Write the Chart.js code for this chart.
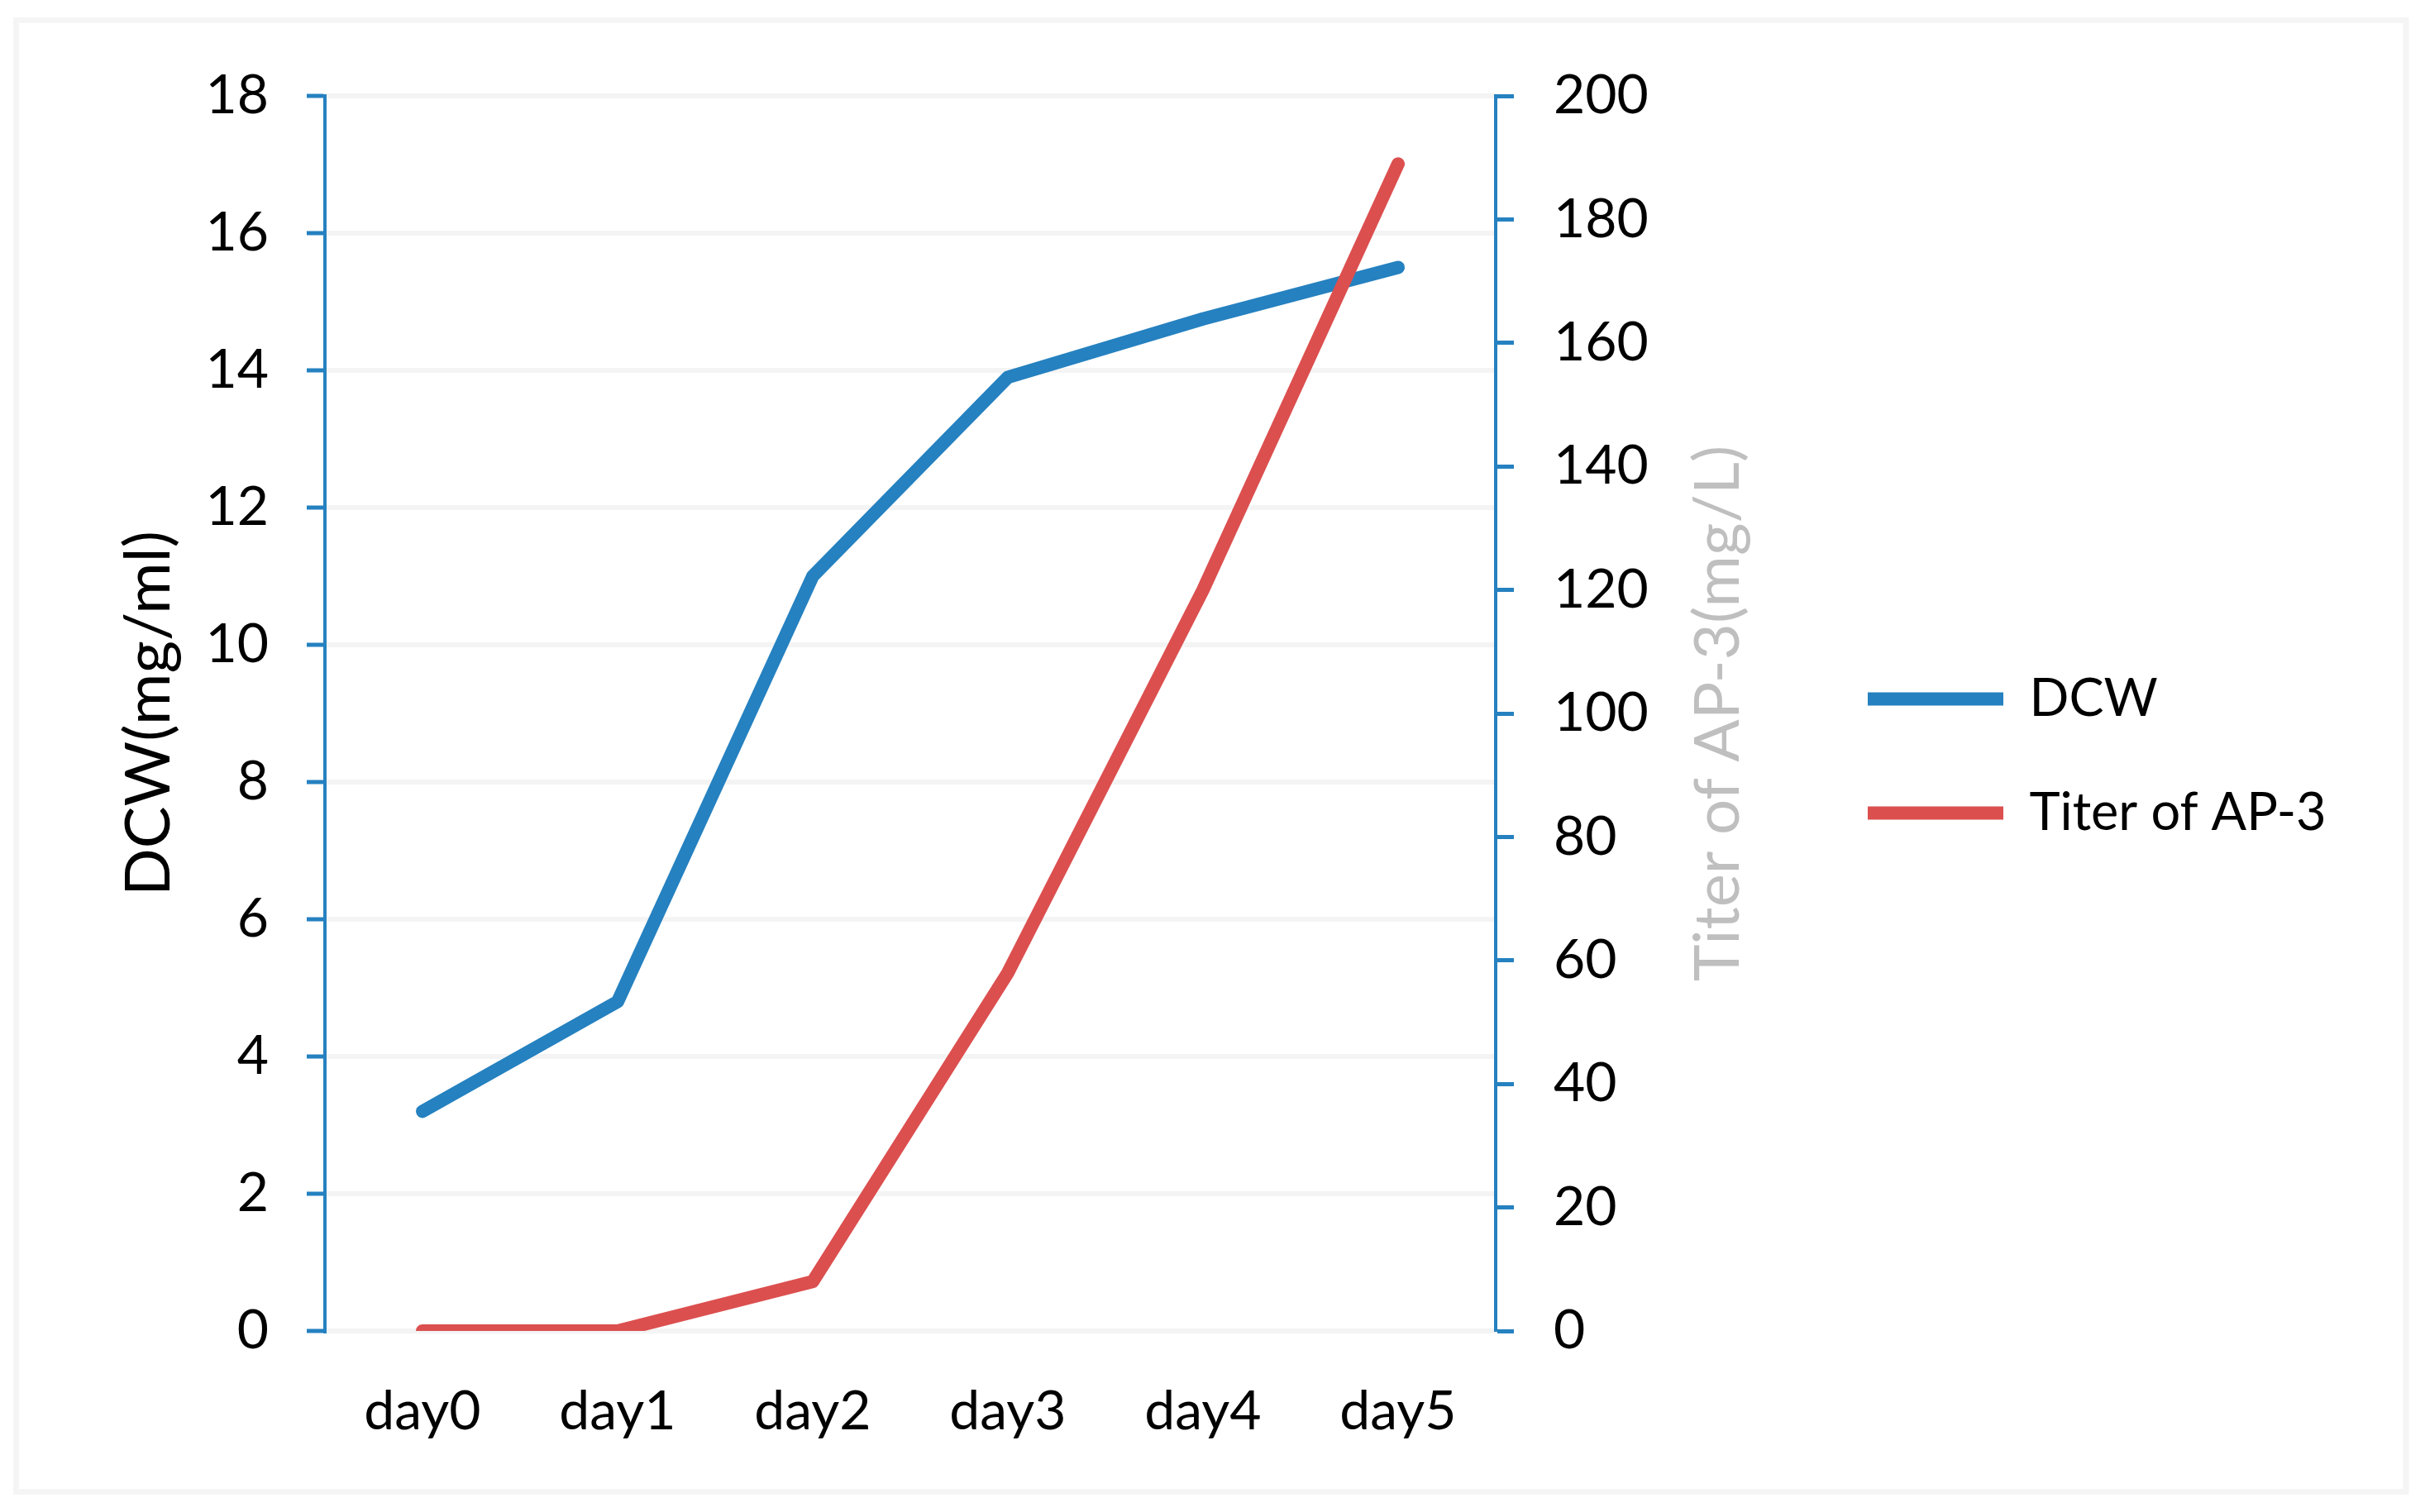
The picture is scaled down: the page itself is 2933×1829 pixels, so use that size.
<!DOCTYPE html>
<html>
<head>
<meta charset="utf-8">
<script src="https://cdn.jsdelivr.net/npm/chart.js@4"></script>
<style>
  html, body { margin: 0; padding: 0; background: #fff; }
</style>
</head>
<body>
<canvas id="lineChart" width="2933" height="1829"></canvas>
<script>
// data
const days = ['day0', 'day1', 'day2', 'day3', 'day4', 'day5'];
const dcwValues = [3.2, 4.8, 11.0, 13.9, 14.75, 15.5];
const titerValues = [0, 0, 8, 58, 120, 189];
const seriesNames = ['DCW', 'Titer of AP-3'];
const leftTitle = 'DCW(mg/ml)';
const rightTitle = 'Titer of AP-3(mg/L)';
const leftRange = [0, 18, 2];
const rightRange = [0, 200, 20];

const BLUE = '#2581C0';
const RED = '#DC4F4F';
const FONT = 'Lato';
const FS = 66;      // tick labels
const LEG_FS = 63;  // legend text
const TITLE_FS = 76; // axis titles

Chart.defaults.font.family = FONT;
Chart.defaults.font.size = FS;
Chart.defaults.color = '#000';

// legend placement: work out right padding so the legend starts where the reference has it
const legendPad = 75;
const lineLen = 164;
const legendLeft = 2186;
const axisRight = 1811;
const mctx = document.createElement('canvas').getContext('2d');
mctx.font = LEG_FS + 'px ' + FONT;
const maxText = Math.max(...seriesNames.map(t => mctx.measureText(t).width));
const legendWidth = legendPad + lineLen + LEG_FS / 2 + maxText;
const padRight = Math.max(0, 2933 - legendLeft - legendWidth);

const extras = {
    id: 'extras',
    beforeDraw(chart) {
        const c = chart.ctx;
        c.save();
        c.strokeStyle = '#F5F5F5';
        c.lineWidth = 7;
        c.strokeRect(19.5, 24.5, 2890.5, 1780);
        c.restore();
    },
    afterDraw(chart) {
        // right axis title reads bottom-to-top like the left one
        const c = chart.ctx;
        const a = chart.chartArea;
        const r = chart.scales.y1;
        c.save();
        c.translate(r.left + 269, (a.top + a.bottom) / 2);
        c.rotate(-Math.PI / 2);
        c.font = TITLE_FS + 'px ' + FONT;
        c.fillStyle = '#BFBFBF';
        c.textAlign = 'center';
        c.textBaseline = 'middle';
        c.fillText(rightTitle, 0, 0);
        c.restore();
    }
};

const canvas = document.getElementById('lineChart');
if (canvas) {
    new Chart(canvas.getContext('2d'), {
        type: 'line',
        data: {
            labels: days,
            datasets: [{
                label: seriesNames[0],
                data: dcwValues,
                borderColor: BLUE,
                backgroundColor: BLUE,
                borderWidth: 16,
                borderCapStyle: 'round',
                borderJoinStyle: 'round',
                pointRadius: 0,
                yAxisID: 'y',
                order: 1
            }, {
                label: seriesNames[1],
                data: titerValues,
                borderColor: RED,
                backgroundColor: RED,
                borderWidth: 16,
                borderCapStyle: 'round',
                borderJoinStyle: 'round',
                pointRadius: 0,
                yAxisID: 'y1',
                order: 0
            }]
        },
        options: {
            responsive: false,
            animation: false,
            devicePixelRatio: 1,
            layout: { padding: { top: 0, left: 0, bottom: 0, right: padRight } },
            plugins: {
                tooltip: { enabled: false },
                legend: {
                    position: 'right',
                    maxWidth: legendWidth + 2,
                    labels: {
                        usePointStyle: true,
                        pointStyle: 'line',
                        pointStyleWidth: lineLen,
                        padding: legendPad,
                        color: '#000',
                        font: { size: LEG_FS },
                        sort: (a, b) => a.datasetIndex - b.datasetIndex
                    }
                }
            },
            scales: {
                x: {
                    offset: true,
                    grid: { display: false, drawTicks: false },
                    border: { display: false },
                    ticks: { padding: 58, color: '#000', maxRotation: 0 },
                    afterFit: s => { s.height = 219; }
                },
                y: {
                    position: 'left',
                    min: leftRange[0],
                    max: leftRange[1],
                    ticks: { stepSize: leftRange[2], padding: 46, color: '#000' },
                    grid: {
                        color: '#F4F4F4',
                        lineWidth: 6,
                        tickLength: 22,
                        tickColor: BLUE,
                        tickWidth: 5
                    },
                    border: { color: BLUE, width: 4 },
                    title: {
                        display: true,
                        text: leftTitle,
                        color: '#000',
                        font: { size: TITLE_FS },
                        padding: { top: 135 }
                    },
                    afterFit: s => { s.width = 393; s.paddingTop = 116; }
                },
                y1: {
                    position: 'right',
                    min: rightRange[0],
                    max: rightRange[1],
                    ticks: { stepSize: rightRange[2], padding: 48, color: '#000' },
                    grid: {
                        drawOnChartArea: false,
                        tickLength: 22,
                        tickColor: BLUE,
                        tickWidth: 5
                    },
                    border: { color: BLUE, width: 4 },
                    afterFit: s => { s.width = legendLeft - axisRight; s.paddingTop = 116; }
                }
            }
        },
        plugins: [extras]
    });
} else {
    console.error('Line chart canvas not found!');
}
</script>
</body>
</html>
